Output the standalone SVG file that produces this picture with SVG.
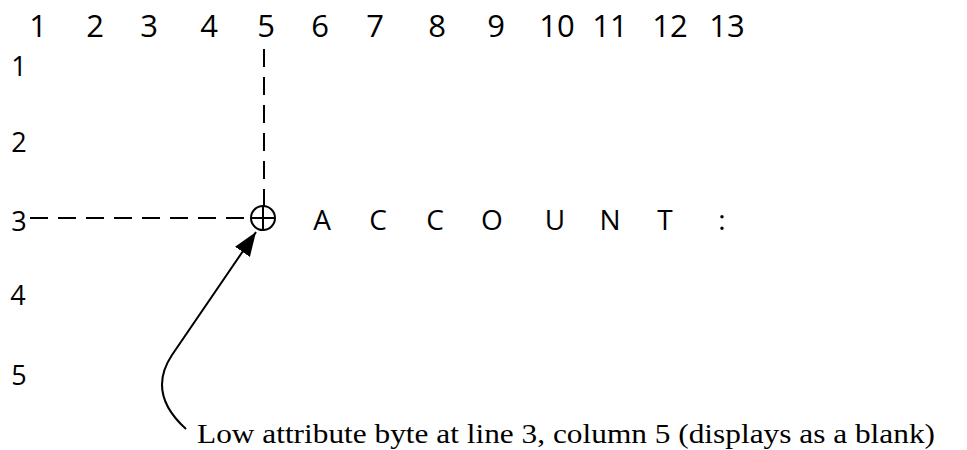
<svg xmlns="http://www.w3.org/2000/svg" width="967" height="450" viewBox="0 0 967 450">
  <style>
    .col { font-family: "Open Sans", "DejaVu Sans", sans-serif; font-weight: 400; font-size: 31px; fill: #000; text-anchor: middle; }
    .row { font-family: "Open Sans", "DejaVu Sans", sans-serif; font-weight: 400; font-size: 27px; fill: #000; text-anchor: middle; }
    .scr { font-family: "Open Sans", "DejaVu Sans", sans-serif; font-weight: 400; font-size: 28px; fill: #000; text-anchor: middle; }
    .note { font-family: "Liberation Serif", "DejaVu Serif", serif; font-size: 28px; fill: #000; }
    .guide { fill: none; stroke: #000; stroke-width: 2; stroke-dasharray: 18 10; }
    .lead { fill: none; stroke: #000; stroke-width: 2; }
  </style>
  <defs>
    <marker id="head" markerUnits="userSpaceOnUse" markerWidth="26" markerHeight="20" refX="24" refY="9" orient="auto">
      <path d="M0,0 L24,9 L0,18 Z" fill="#000"/>
    </marker>
  </defs>
  <rect width="967" height="450" fill="#fff"/>

  <!-- column numbers -->
  <g id="columns">
    <text class="col" x="38" y="37">1</text>
    <text class="col" x="95" y="37">2</text>
    <text class="col" x="149" y="37">3</text>
    <text class="col" x="209" y="37">4</text>
    <text class="col" x="266" y="37">5</text>
    <text class="col" x="320" y="37">6</text>
    <text class="col" x="375" y="37">7</text>
    <text class="col" x="437" y="37">8</text>
    <text class="col" x="496" y="37">9</text>
    <text class="col" x="557" y="37">10</text>
    <text class="col" x="610" y="37">11</text>
    <text class="col" x="670" y="37">12</text>
    <text class="col" x="727" y="37">13</text>
  </g>

  <!-- row numbers -->
  <g id="rows">
    <text class="row" x="19" y="76">1</text>
    <text class="row" x="19" y="152">2</text>
    <text class="row" x="19" y="231">3</text>
    <text class="row" x="18" y="305">4</text>
    <text class="row" x="19" y="385">5</text>
  </g>

  <!-- screen field text on line 3 -->
  <g id="field-text">
    <text class="scr" x="322" y="230">A</text>
    <text class="scr" x="378" y="230">C</text>
    <text class="scr" x="435" y="230">C</text>
    <text class="scr" x="492" y="230">O</text>
    <text class="scr" x="555" y="230">U</text>
    <text class="scr" x="610" y="230">N</text>
    <text class="scr" x="665" y="230">T</text>
    <text class="scr" x="722" y="230">:</text>
  </g>

  <!-- attribute byte position marker -->
  <g id="attr-byte">
    <circle cx="263" cy="218" r="12" fill="none" stroke="#000" stroke-width="2"/>
    <line x1="251" y1="218" x2="275" y2="218" stroke="#000" stroke-width="2"/>
    <line x1="263" y1="206" x2="263" y2="230" stroke="#000" stroke-width="2"/>
  </g>

  <!-- guides and leader -->
  <g id="connectors">
    <line class="guide" x1="30" y1="218" x2="251" y2="218"/>
    <line class="guide" x1="264" y1="49" x2="264" y2="206"/>
    <path class="lead" d="M186,429 C165,410 152,385 172,355 L256,232" marker-end="url(#head)"/>
  </g>

  <g id="note">
    <text class="note" x="197" y="443" textLength="738" lengthAdjust="spacingAndGlyphs">Low attribute byte at line 3, column 5 (displays as a blank)</text>
  </g>
</svg>
